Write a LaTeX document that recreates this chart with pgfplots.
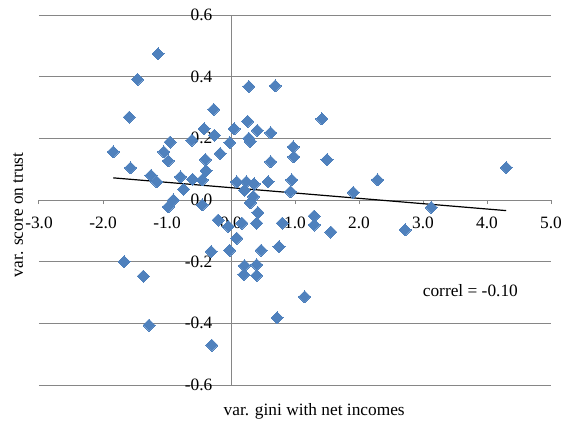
\documentclass[border=0pt]{standalone}
\usepackage{fontspec}
\setmainfont{Liberation Serif}
\usepackage{pgfplots}
\pgfplotsset{compat=1.18}
\definecolor{ptblue}{HTML}{4F81BD}
\definecolor{gridgray}{HTML}{868686}
\pgfplotstableread{
x y
-1.14 0.474
-1.46 0.391
-1.59 0.269
-1.84 0.156
-1.57 0.104
-1.25 0.080
-1.16 0.059
-1.05 0.156
-0.98 0.127
-0.95 0.188
-0.90 0.000
-0.98 -0.022
-0.79 0.075
-0.74 0.035
-0.60 0.067
-0.61 0.194
-0.45 0.065
-0.39 0.095
-0.40 0.131
-0.42 0.231
-0.27 0.294
-0.26 0.210
-0.17 0.151
-0.02 0.186
0.05 0.231
0.09 0.059
0.24 0.059
0.21 0.032
0.36 0.052
0.28 0.368
0.26 0.255
0.30 0.190
0.28 0.200
0.41 0.226
0.62 0.218
0.69 0.370
0.62 0.124
0.58 0.059
0.35 0.011
0.30 -0.009
0.42 -0.041
0.95 0.065
0.93 0.027
0.97 0.172
0.98 0.140
1.42 0.263
1.50 0.131
1.91 0.025
2.29 0.065
4.30 0.105
3.13 -0.024
2.72 -0.097
1.56 -0.104
1.30 -0.052
1.30 -0.081
0.80 -0.075
1.15 -0.314
0.75 -0.151
0.72 -0.382
-1.67 -0.200
-1.37 -0.247
-1.28 -0.406
-0.30 -0.471
-0.31 -0.167
-0.45 -0.016
-0.20 -0.065
-0.04 -0.086
-0.02 -0.163
0.09 -0.124
0.17 -0.075
0.40 -0.075
0.47 -0.163
0.21 -0.213
0.40 -0.210
0.20 -0.242
0.40 -0.245
}\datatable
\begin{document}
\fontsize{13}{15}\selectfont
\begin{tikzpicture}
\begin{axis}[
  scale only axis, width=384pt, height=277.5pt,
  xmin=-3, xmax=5, ymin=-0.6, ymax=0.6,
  axis lines=middle,
  axis line style={-, draw=gridgray, line width=0.75pt},
  xtick={-3,-2,-1,0,1,2,3,4,5},
  ytick={-0.6,-0.4,-0.2,0,0.2,0.4,0.6},
  ymajorgrids,
  grid style={gridgray, line width=0.75pt},
  hide obscured x ticks=false, hide obscured y ticks=false,
  /pgf/number format/assume math mode=true,
  xticklabel={\pgfmathprintnumber[fixed,fixed zerofill,precision=1]{\tick}},
  yticklabel={\pgfmathprintnumber[fixed,fixed zerofill,precision=1]{\tick}},
  tick label style={font=\fontsize{13}{15}\selectfont},
  x tick label style={anchor=north, yshift=-5.5pt},
  y tick label style={anchor=east, xshift=-6.5pt},
  xtick style={draw=gridgray, line width=0.75pt},
  ytick style={draw=none},
  tick align=outside,
  major tick length=3pt,
  clip=false,
]
\addplot[only marks, color=ptblue, mark=square*, mark size=3.2pt,
  mark options={rotate=45, fill=ptblue, draw=ptblue, line width=0pt}] table[x=x,y=y]{\datatable};
\addplot[black, line width=0.9pt] coordinates {(-1.84,0.0718) (4.30,-0.0344)};
\node[font=\fontsize{13}{15}\selectfont] at (axis cs:3.74,-0.293) {correl = -0.10};
\node[font=\fontsize{13}{15}\selectfont, anchor=center, yshift=-19.5pt] at (axis cs:1.30,-0.6) {var. gini with net incomes};
\node[font=\fontsize{13}{15}\selectfont, xshift=-15.75pt, rotate=90, anchor=center] at (axis cs:-3,-0.048) {var. score on trust};
\end{axis}
\pgfresetboundingbox
\path[use as bounding box] (-29.25pt,-27pt) rectangle (395.25pt,288.75pt);
\end{tikzpicture}
\end{document}
